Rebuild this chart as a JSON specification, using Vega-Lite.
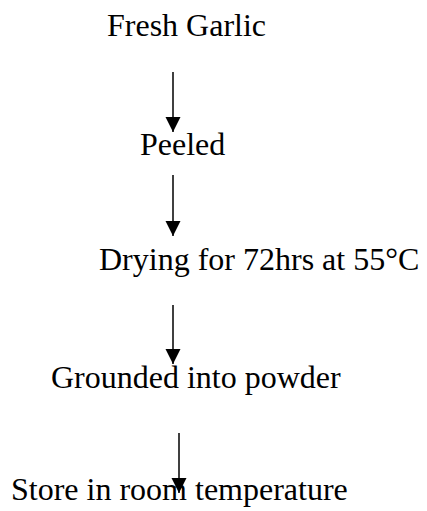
{
  "$schema": "https://vega.github.io/schema/vega-lite/v6.json",
  "width": 427,
  "height": 511,
  "autosize": {"type": "none"},
  "padding": 0,
  "background": "white",
  "config": {"view": {"stroke": null}},
  "datasets": {
    "steps": [
      {"step": 1, "label": "Fresh Garlic", "px": 107, "py": 36},
      {"step": 2, "label": "Peeled", "px": 140, "py": 155},
      {"step": 3, "label": "Drying for 72hrs at 55°C", "px": 99, "py": 270},
      {"step": 4, "label": "Grounded into powder", "px": 51, "py": 388},
      {"step": 5, "label": "Store in room temperature", "px": 11, "py": 500}
    ],
    "arrows": [
      {"from": 1, "ax": 173, "top": 72, "tip": 132},
      {"from": 2, "ax": 173, "top": 175, "tip": 236},
      {"from": 3, "ax": 173, "top": 305, "tip": 364},
      {"from": 4, "ax": 179, "top": 433, "tip": 493}
    ]
  },
  "layer": [
    {
      "data": {"name": "arrows"},
      "mark": {"type": "rule", "color": "black", "strokeWidth": 1.5},
      "encoding": {
        "x": {"field": "ax", "type": "quantitative", "scale": {"domain": [0, 427]}, "axis": null},
        "y": {"field": "top", "type": "quantitative", "scale": {"domain": [0, 511], "reverse": true}, "axis": null},
        "y2": {"field": "tip"}
      }
    },
    {
      "data": {"name": "arrows"},
      "mark": {"type": "point", "shape": "M-1,-2L1,-2L0,0Z", "filled": true, "color": "black", "opacity": 1, "size": 225},
      "encoding": {
        "x": {"field": "ax", "type": "quantitative", "scale": {"domain": [0, 427]}, "axis": null},
        "y": {"field": "tip", "type": "quantitative", "scale": {"domain": [0, 511], "reverse": true}, "axis": null}
      }
    },
    {
      "data": {"name": "steps"},
      "mark": {"type": "text", "align": "left", "baseline": "alphabetic", "font": "Liberation Serif", "fontSize": 32, "color": "black"},
      "encoding": {
        "x": {"field": "px", "type": "quantitative", "scale": {"domain": [0, 427]}, "axis": null},
        "y": {"field": "py", "type": "quantitative", "scale": {"domain": [0, 511], "reverse": true}, "axis": null},
        "text": {"field": "label"}
      }
    }
  ]
}
